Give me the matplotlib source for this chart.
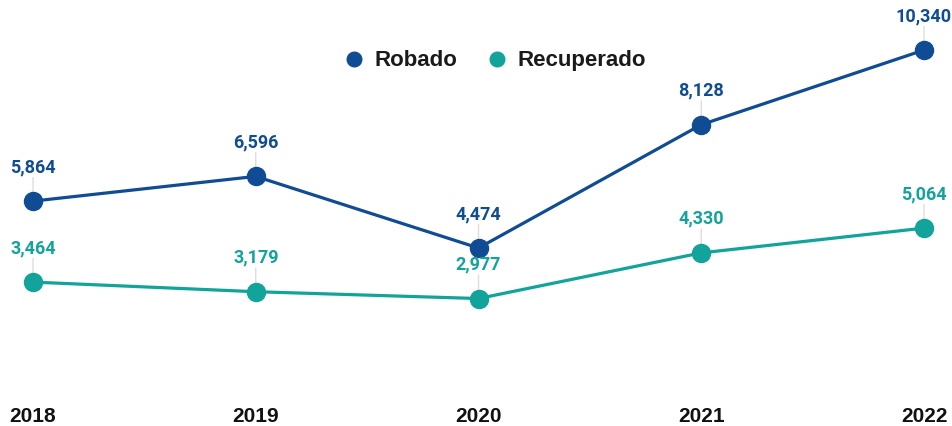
import matplotlib
matplotlib.use("Agg")
import matplotlib.pyplot as plt
from matplotlib.lines import Line2D

years = [2018, 2019, 2020, 2021, 2022]
robado = [5864, 6596, 4474, 8128, 10340]
recuperado = [3464, 3179, 2977, 4330, 5064]
series_names = ["Robado", "Recuperado"]

C_ROB = "#0f4c94"
C_REC = "#12a39b"

fig = plt.figure(figsize=(9.53, 4.26), dpi=100)
ax = fig.add_axes([0, 27 / 426, 1, 399 / 426])
ax.set_xlim(2018 - 33 / 222.75, 2022 + 29 / 222.75)
ax.set_ylim(0, 11823)

for vals, col in ((robado, C_ROB), (recuperado, C_REC)):
    ax.plot(years, vals, color=col, lw=2.3, marker="o", ms=13, zorder=3, clip_on=False)
    for x, v in zip(years, vals):
        # thin guide from point up to its label
        ax.annotate("", xy=(x, v), xytext=(0, 17), textcoords="offset points",
                    arrowprops=dict(arrowstyle="-", color="#dddddd", lw=1.0,
                                    shrinkA=0, shrinkB=0), zorder=1)
        ax.annotate(f"{v:,}", xy=(x, v), xytext=(0, 24.5), textcoords="offset points",
                    ha="center", va="center", color=col, fontsize=13,
                    fontweight="bold", family="Roboto", zorder=4)

ax.set_xticks(years)
ax.set_xticklabels([str(y) for y in years], fontsize=15, fontweight="bold",
                   family="Liberation Sans", color="#111111")
ax.tick_params(axis="x", length=0, pad=6)
ax.set_yticks([])
for s in ax.spines.values():
    s.set_visible(False)

handles = [Line2D([0], [0], marker="o", ls="", ms=10.5, color=c) for c in (C_ROB, C_REC)]
leg = fig.legend(handles, series_names, loc="center", bbox_to_anchor=(0.519, 0.857),
                 ncol=2, frameon=False, handlelength=1.0, handletextpad=0.4,
                 columnspacing=1.3,
                 prop={"family": "Liberation Sans", "weight": "bold", "size": 16})
for t in leg.get_texts():
    t.set_color("#1a1a1a")

fig.savefig("out.png", dpi=100)
